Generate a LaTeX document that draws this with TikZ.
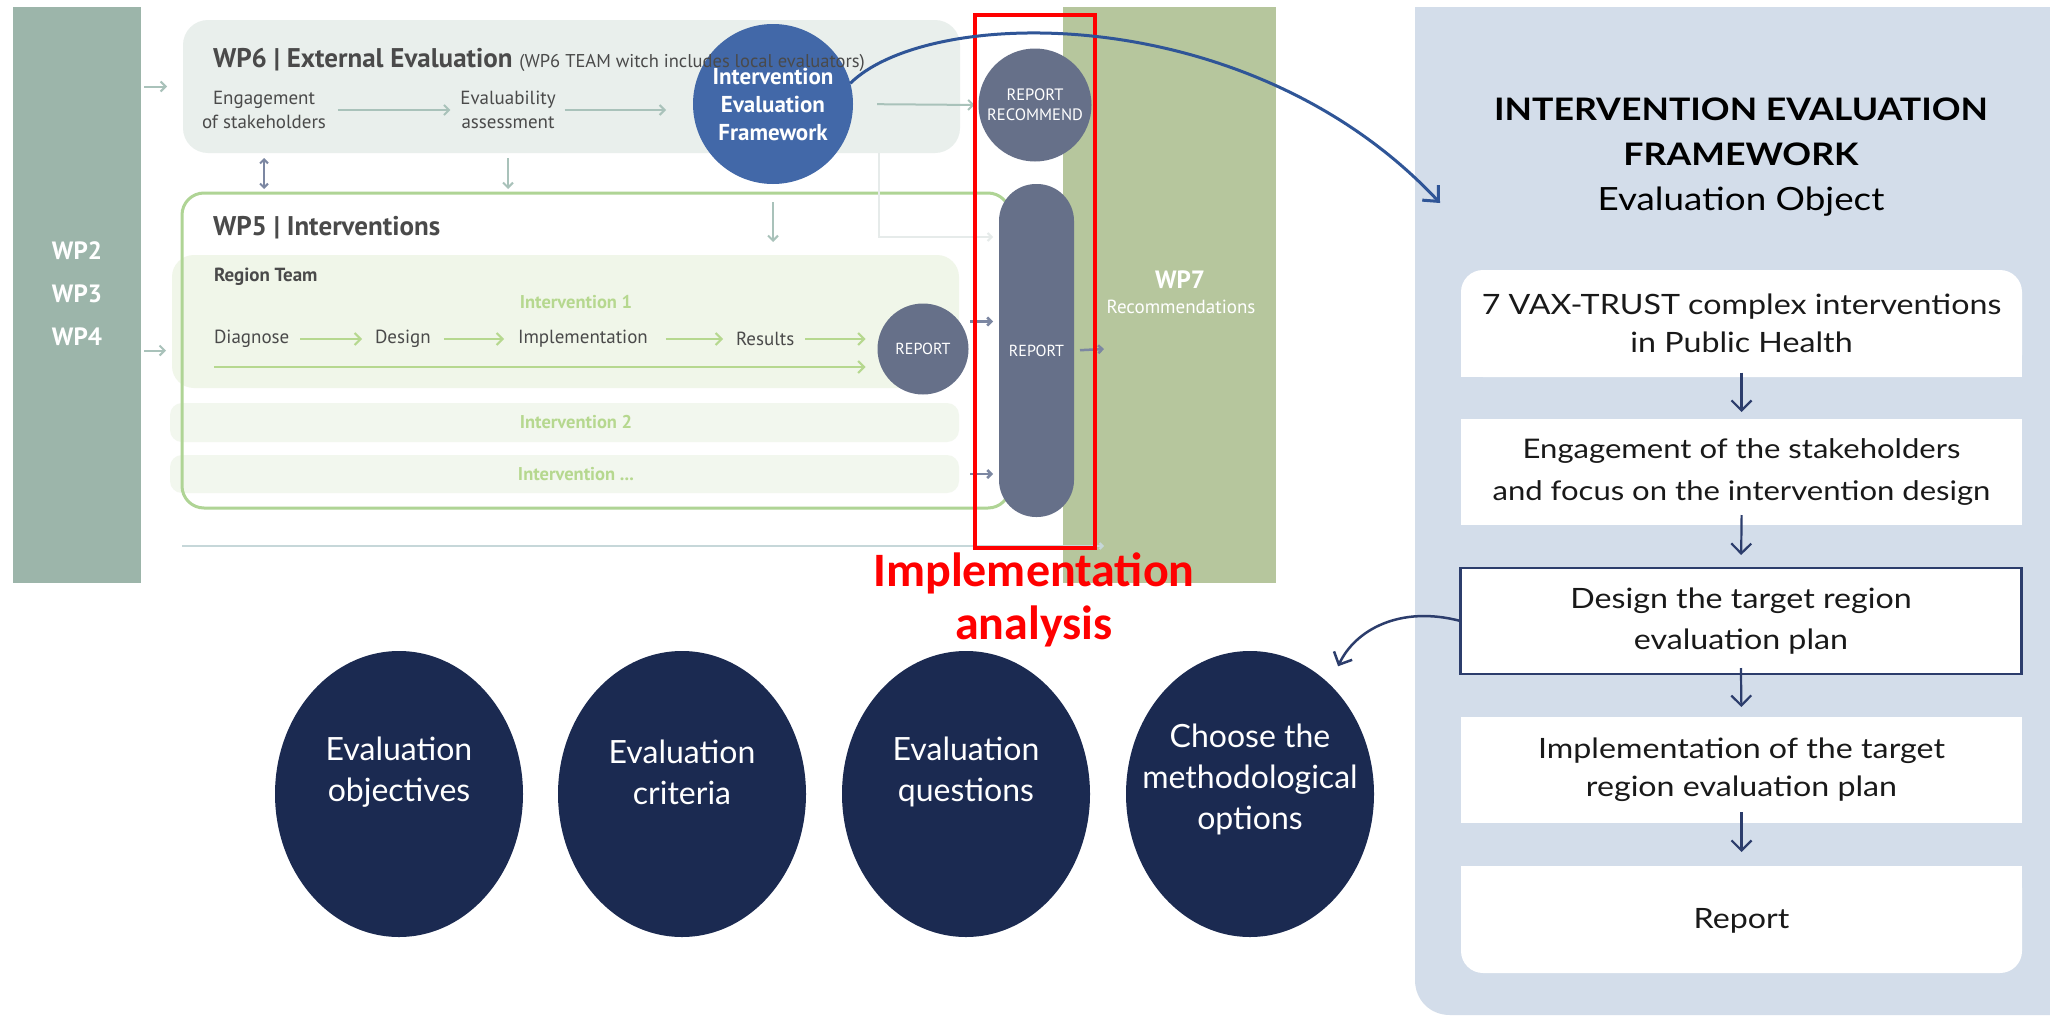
\documentclass[tikz,border=0pt]{standalone}
\usepackage{fontspec}
\setmainfont{Lato}
\newfontfamily\widef[FakeStretch=1.15]{Lato}
\newfontfamily\ptf{PT Sans}
\newfontfamily\calf{Carlito}
\usetikzlibrary{arrows.meta,shapes.geometric,calc}
\definecolor{wpbar}{HTML}{9CB5AA}
\definecolor{wpsix}{HTML}{E9EFEC}
\definecolor{wparrow}{HTML}{A9C2BA}
\definecolor{iefblue}{HTML}{4268A8}
\definecolor{slate}{HTML}{667089}
\definecolor{wpgreen}{HTML}{AFD495}
\definecolor{regfill}{HTML}{F0F6E9}
\definecolor{intfill}{HTML}{F2F7EE}
\definecolor{intgreen}{HTML}{B6D88F}
\definecolor{wpseven}{HTML}{B6C69D}
\definecolor{panel}{HTML}{D3DDEA}
\definecolor{navy}{HTML}{1B2A51}
\definecolor{arrnavy}{HTML}{2C3D6C}
\definecolor{curveblue}{HTML}{2F5597}
\definecolor{darktxt}{HTML}{4A4A4A}
\definecolor{faintline}{HTML}{E6EBEA}
\definecolor{sepline}{HTML}{C6D7D9}
\definecolor{sarrowc}{HTML}{7C87A2}
\begin{document}
\begin{tikzpicture}[x=1pt,y=-1pt,
  every node/.style={inner sep=0pt, outer sep=0pt},
  lt/.style={font=\ptf\fontsize{19}{24}\selectfont, text=darktxt, align=center},
  garrow/.style={draw=intgreen, line width=2pt, -{Straight Barb[length=6pt,width=12pt]}},
  warrow/.style={draw=wparrow, line width=2pt, -{Straight Barb[length=5pt,width=10pt]}},
  sarr/.style={draw=sarrowc, line width=2.5pt, -{Straight Barb[length=4pt,width=8pt]}},
  navarr/.style={draw=arrnavy, line width=2.2pt, -{Straight Barb[length=10pt,width=20pt]}},
  pbox/.style={minimum width=561pt, minimum height=106pt, align=center, text=black!90},
  bigc/.style={ellipse, fill=navy, minimum width=248pt, minimum height=286pt},
  ctext/.style={text=white, align=center, font=\fontsize{32}{41}\selectfont},
  inttext/.style={font=\ptf\bfseries\fontsize{18.5}{20}\selectfont, text=intgreen},
  slatec/.style={circle, fill=slate, text=white, align=center}
]
\useasboundingbox (0,0) rectangle (2050,1017);
\fill[white] (0,0) rectangle (2050,1017);

% right panel
\fill[panel] (2050,7) -- (1415,7) -- (1415,980) .. controls (1415,1000) and (1430,1015) .. (1450,1015) -- (2050,1015) -- cycle;

% columns
\node[fill=wpbar, minimum width=128pt, minimum height=576pt] (wpL) at (77,295) {};
\node[font=\ptf\bfseries\fontsize{25}{43}\selectfont, text=white, align=center] (wpLt) at (77,294) {WP2\\WP3\\WP4};
\node[fill=wpseven, minimum width=213pt, minimum height=576pt] (wp7) at (1169.5,295) {};
\node[font=\ptf\bfseries\fontsize{25}{30}\selectfont, text=white] (wp7t) at (1180,280) {WP7};
\node[font=\ptf\fontsize{19}{22}\selectfont, text=white] (wp7r) at (1181,307) {Recommendations};

% WP6
\node[fill=wpsix, rounded corners=25pt, minimum width=777pt, minimum height=133pt] (wp6) at (571.5,86.5) {};
\node[circle, fill=iefblue, minimum size=160pt, font=\ptf\bfseries\fontsize{23}{28}\selectfont, text=white, align=center] (ief) at (773,104) {Intervention\\Evaluation\\Framework};
\node[anchor=base west, font=\ptf\bfseries\fontsize{27}{30}\selectfont, text=darktxt] (wp6t) at (213,67) {WP6 | External Evaluation\ {\mdseries\fontsize{18.5}{20}\selectfont (WP6 TEAM witch includes local evaluators)}};
\node[lt] (eng) at (264,110) {Engagement\\of stakeholders};
\node[lt] (evb) at (508,110) {Evaluability\\assessment};
\node[slatec, minimum size=113pt, font=\ptf\fontsize{16.5}{20}\selectfont] (reprec) at (1035,105) {REPORT\\RECOMMEND};

% WP5
\node[fill=regfill, rounded corners=22pt, minimum width=787pt, minimum height=133pt] (region) at (565.5,321.5) {};
\node[fill=intfill, rounded corners=12pt, minimum width=789pt, minimum height=39pt] (int2) at (564.5,422.5) {};
\node[fill=intfill, rounded corners=12pt, minimum width=789pt, minimum height=38pt] (int3) at (564.5,474) {};
\node[draw=wpgreen, line width=3pt, rounded corners=22pt, minimum width=828pt, minimum height=315pt] (wp5) at (596,350.5) {};
\node[anchor=base west, font=\ptf\bfseries\fontsize{27}{30}\selectfont, text=darktxt] (wp5t) at (213,235) {WP5 | Interventions};
\node[anchor=west, font=\ptf\bfseries\fontsize{19}{22}\selectfont, text=darktxt] (rteam) at (214,277) {Region Team};
\node[inttext] (int1t) at (576,302) {Intervention 1};
\node[inttext] (int2t) at (576,422) {Intervention 2};
\node[inttext] (int3t) at (576,474) {Intervention ...};
\node[lt, anchor=west] (diag) at (214,339) {Diagnose};
\node[lt, anchor=west] (design) at (375,339) {Design};
\node[lt, anchor=west] (impl) at (518,339) {Implementation};
\node[lt, anchor=west] (res) at (736,339) {Results};
\node[slatec, minimum size=91pt, font=\ptf\fontsize{16}{18}\selectfont] (repA) at (923,349) {REPORT};
\node[fill=slate, rounded corners=37pt, minimum width=75pt, minimum height=333pt, font=\ptf\fontsize{16}{18}\selectfont, text=white] (pill) at (1036.5,350.5) {REPORT};

\coordinate (fk) at (879,153);
\coordinate (yA) at (0,237);
\coordinate (yB) at (0,367);
\coordinate (ysep) at (0,546);
\coordinate (wp7in) at (1104,349);
\coordinate (paneltip) at (1440,203);

% arrows in left diagram
\draw[warrow, shorten <=3pt, shorten >=16pt] (wpL.east |- wp6.west) -- (wp6.west);
\draw[warrow, shorten <=3pt, shorten >=16pt] (wpL.east |- wp5.west) -- (wp5.west);
\draw[warrow, shorten <=12pt, shorten >=10pt] (eng) -- (evb);
\draw[warrow, shorten <=9pt, shorten >=27pt] (evb.east) -- (evb.east -| ief.west);
\draw[warrow, shorten <=24pt, shorten >=4pt] (ief.east) -- (reprec.west);
\draw[draw=sarrowc, line width=2pt, {Straight Barb[length=4pt,width=8pt]}-{Straight Barb[length=4pt,width=8pt]}, shorten <=5pt, shorten >=4pt] (eng |- wp6.south) -- (eng |- wp5.north);
\draw[warrow, shorten <=5pt, shorten >=4pt] (evb |- wp6.south) -- (evb |- wp5.north);
\draw[warrow, shorten <=18pt, shorten >=13pt] (ief.south) -- (ief.south |- region.north);
\draw[draw=faintline, line width=2pt, -{Straight Barb[length=4pt,width=8pt]}, shorten >=6pt] (fk) |- (pill.west |- yA);
\draw[garrow, shorten <=11pt, shorten >=13pt] (diag) -- (design);
\draw[garrow, shorten <=13pt, shorten >=14pt] (design) -- (impl);
\draw[garrow, shorten <=18pt, shorten >=13pt] (impl) -- (res);
\draw[garrow, shorten <=11pt, shorten >=12pt] (res.east) -- (res.east -| repA.west);
\draw[garrow, shorten >=12pt] (diag.west |- yB) -- (repA.west |- yB);
\draw[sarr, shorten <=11pt, shorten >=6pt] (region.east) -- (region.east -| pill.west);
\draw[sarr, shorten <=11pt, shorten >=6pt] (int3.east) -- (int3.east -| pill.west);
\draw[sarr, shorten <=6pt] (pill.east) -- (wp7in);
\draw[draw=sepline, line width=2pt, -{Straight Barb[length=3pt,width=6pt]}] (wp5.south west |- ysep) -- (wp7in |- ysep);

% red highlight
\node[draw=red, line width=4pt, minimum width=120pt, minimum height=533pt] (redbox) at (1035,281.5) {};
\node[font=\calf\bfseries\fontsize{48}{53}\selectfont, text=red, align=center] (redtxt) at (1034,600) {Implementation\\analysis};

% big blue curve
\draw[curveblue, line width=3pt, -{Straight Barb[length=12pt,width=22pt]}] (ief.15) .. controls (930,5) and (1250,0) .. (paneltip);

% right panel content
\node[font=\widef\bfseries\fontsize{31}{45}\selectfont, align=center] (ptitle) at (1741,132) {INTERVENTION EVALUATION\\FRAMEWORK};
\node[font=\widef\fontsize{32}{36}\selectfont] (psub) at (1741,202) {Evaluation Object};
\fill[white, rounded corners=22pt] (1461,270) rectangle (2022,377);
\fill[white] (1461,330) rectangle (2022,377);
\node[pbox, font=\widef\fontsize{28}{38}\selectfont] (b1) at (1741.5,323.5) {7 VAX-TRUST complex interventions\\in Public Health};
\node[pbox, fill=white, font=\widef\fontsize{27}{42}\selectfont] (b2) at (1741.5,472) {Engagement of the stakeholders\\and focus on the intervention design};
\node[pbox, fill=white, draw=arrnavy, line width=2.5pt, font=\widef\fontsize{28}{41}\selectfont] (b3) at (1741,621) {Design the target region\\evaluation plan};
\node[pbox, fill=white, font=\widef\fontsize{28}{38}\selectfont] (b4) at (1741.5,770) {Implementation of the target\\region evaluation plan};
\fill[white, rounded corners=22pt] (1461,866) rectangle (2022,973);
\fill[white] (1461,866) rectangle (2022,910);
\node[pbox, font=\widef\fontsize{28}{38}\selectfont] (b5) at (1741.5,921) {Report};
\draw[navarr, shorten <=-4pt, shorten >=7pt] (b1.south) -- (b2.north);
\draw[navarr, shorten <=-10pt, shorten >=13pt] (b2.south) -- (b3.north);
\draw[navarr, shorten <=-6pt, shorten >=10pt] (b3.south) -- (b4.north);
\draw[navarr, shorten <=-11pt, shorten >=16pt] (b4.south) -- (b5.north);

% bottom circles
\node[bigc] (c1) at (399,794) {};
\node[bigc] (c2) at (682,794) {};
\node[bigc] (c3) at (966,794) {};
\node[bigc] (c4) at (1250,794) {};
\node[ctext] (c1t) at ([yshift=22pt]c1.center) {Evaluation\\objectives};
\node[ctext] (c2t) at ([yshift=22pt]c2.center) {Evaluation\\criteria};
\node[ctext] (c3t) at ([yshift=22pt]c3.center) {Evaluation\\questions};
\node[ctext] (c4t) at ([yshift=15pt]c4.center) {Choose the\\methodological\\options};
\draw[navarr, line width=2.5pt, shorten >=20pt] (b3.west) .. controls (1400,605) and (1355,630) .. (c4.54);
\end{tikzpicture}
\end{document}
